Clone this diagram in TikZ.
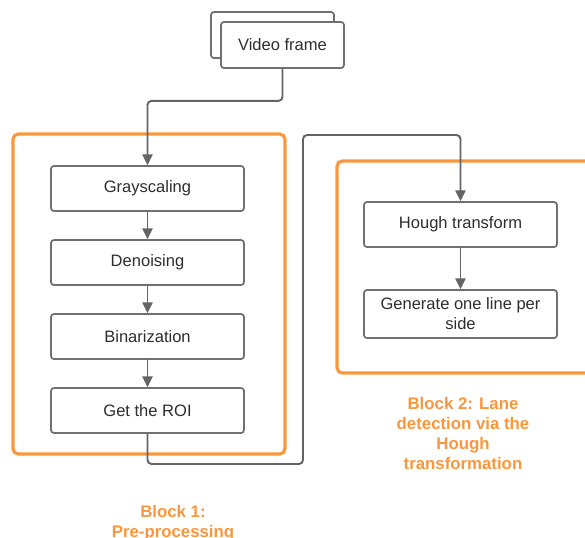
\documentclass[tikz,border=0pt]{standalone}
\usepackage{fontspec}
\setmainfont{Liberation Sans}
\usetikzlibrary{arrows.meta}
\definecolor{lgray}{RGB}{100,100,100}
\definecolor{bgray}{RGB}{112,112,112}
\definecolor{tgray}{RGB}{45,45,50}
\definecolor{orng}{RGB}{250,150,60}
\tikzset{
  box/.style={draw=bgray, line width=1.3pt, rounded corners=2.2pt, fill=white,
    minimum width={193*0.75pt}, minimum height={45*0.75pt}, inner sep=0pt,
    text=tgray, font=\fontsize{12.4}{15}\selectfont, align=center},
  conn/.style={draw=lgray, line width=1.45pt, rounded corners=3pt,
    -{Triangle[length=8pt,width=7.5pt]}},
  frame/.style={draw=orng, line width=2.4pt, rounded corners=4pt},
  lbl/.style={text=orng, font=\fontsize{12.6}{15}\selectfont\bfseries, align=center}
}
\begin{document}
\begin{tikzpicture}[x=0.75pt,y=-0.75pt]
\useasboundingbox (0,0) rectangle (585,537);
\clip (0,0) rectangle (585,537);
% frames
\draw[frame] (13,134) rectangle (285,454);
\draw[frame] (337,161) rectangle (610,373);
% video frame stack
\node[box, minimum width={123*0.75pt}, minimum height={46*0.75pt}] (vfback) at (272.5,35) {};
\node[box, minimum width={123*0.75pt}, minimum height={46*0.75pt}] (vf) at (282.5,45) {Video frame};
% block 1
\node[box] (gray) at (147.5,188.5) {Grayscaling};
\node[box] (den) at (147.5,262.5) {Denoising};
\node[box] (bin) at (147.5,336.5) {Binarization};
\node[box] (roi) at (147.5,410.5) {Get the ROI};
% block 2
\node[box] (hough) at (460.5,224.5) {Hough transform};
\node[box, minimum height={48*0.75pt}] (gen) at (460.5,314) {Generate one line per\\side};
% connectors
\coordinate (t1) at (303,464);
\coordinate (t2) at (303,135);
\draw[conn] (vf.south) -- ++(0,32) -| (gray.north);
\draw[conn] (gray) -- (den);
\draw[conn] (den) -- (bin);
\draw[conn] (bin) -- (roi);
\draw[conn] (roi.south) |- (t1) -- (t2) -| (hough.north);
\draw[conn] (hough) -- (gen);
% labels
\node[lbl] (l2) at (463,433.5) {Block 2: Lane\\detection via the\\Hough\\transformation};
\node[lbl] (l1) at (173,523.5) {Block 1:\\Pre-processing};
\end{tikzpicture}
\end{document}
